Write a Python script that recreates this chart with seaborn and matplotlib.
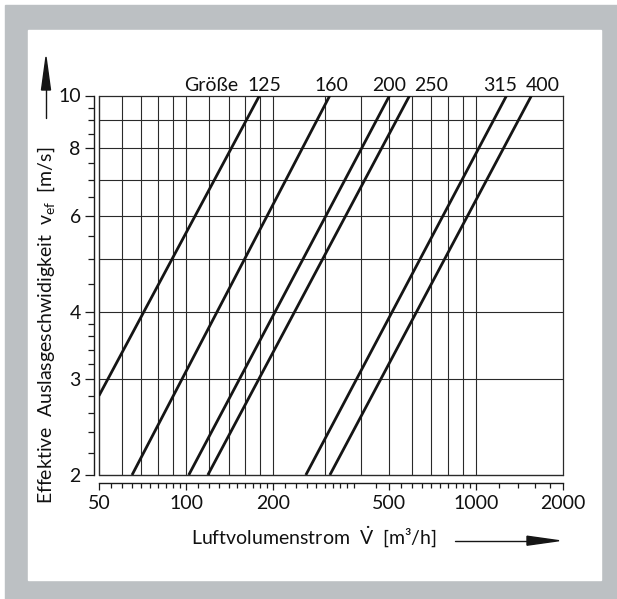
import matplotlib
matplotlib.use("Agg")
import matplotlib.pyplot as plt
import numpy as np
import pandas as pd
import seaborn as sns
from matplotlib.ticker import NullFormatter
from matplotlib.patches import Rectangle, Polygon
from matplotlib.lines import Line2D
from matplotlib.transforms import IdentityTransform

# ---------------- data ----------------
sizes = ["125", "160", "200", "250", "315", "400"]
flow_start = [50, 65, 102, 118.7, 258.6, 313]       # m3/h at lower end
speed_start = [2.8, 2, 2, 2, 2, 2]                   # m/s at lower end
flow_end = [179, 313, 503, 590, 1275, 1554]          # m3/h at upper end
speed_end = [10, 10, 10, 10, 10, 10]                 # m/s at upper end
label_x = [186, 318, 500, 702, 1213, 1705]           # size label positions (m3/h)
caption = "Größe"
caption_x = 122

x_major = [50, 100, 200, 500, 1000, 2000]
x_major_labels = ["50", "100", "200", "500", "1000", "2000"]
x_minor = [55, 60, 65, 70, 75, 80, 85, 90, 95,
           110, 120, 130, 140, 150, 160, 170, 180, 190,
           220, 240, 260, 280, 300, 320, 340, 360, 380,
           450, 550, 600, 650, 700, 750, 800, 850, 900, 950,
           1200, 1400, 1600, 1800]
x_grid = [60, 70, 80, 90, 100, 120, 140, 160, 180, 200,
          300, 400, 500, 600, 700, 800, 900, 1000]

y_major = [2, 3, 4, 6, 8, 10]
y_major_labels = ["2", "3", "4", "6", "8", "10"]
y_minor = [2.2, 2.4, 2.6, 2.8, 3.2, 3.4, 3.6, 3.8, 4.5, 5, 5.5,
           6.5, 7, 7.5, 8.5, 9, 9.5]
y_grid = [3, 4, 5, 6, 7, 8, 9]

x_label = r"Luftvolumenstrom  $\dot{\mathregular{V}}$  [m³/h]"
y_label = r"Effektive  Auslasgeschwidigkeit  v$_{\mathregular{ef}}$  [m/s]"

rows = []
for s, x0, y0, x1, y1 in zip(sizes, flow_start, speed_start, flow_end, speed_end):
    rows.append({"size": s, "V": x0, "v": y0})
    rows.append({"size": s, "V": x1, "v": y1})
df = pd.DataFrame(rows)

# ---------------- style ----------------
sns.set_style("white")
plt.rcParams["font.family"] = ["Lato", "DejaVu Sans"]
plt.rcParams["font.weight"] = "normal"
plt.rcParams["mathtext.fontset"] = "custom"
plt.rcParams["mathtext.rm"] = "Lato"
plt.rcParams["mathtext.it"] = "Lato"
plt.rcParams["text.color"] = "#111111"

FS = 14
W, H = 617, 599
fig = plt.figure(figsize=(W / 100, H / 100), dpi=100, facecolor="white")

# grey frame and white inner panel
gray = "#bcc0c3"
fig.patches.append(Rectangle((4.7 / W, 0), 1 - 4.7 / W, 1 - 5 / H,
                             transform=fig.transFigure, color=gray, zorder=-10))
fig.patches.append(Rectangle((28 / W, (H - 580) / H), (601 - 28) / W, (580 - 30) / H,
                             transform=fig.transFigure, color="white", zorder=-9))

left, right, top, bottom = 99, 563.3, 95.5, 475
ax = fig.add_axes([left / W, (H - bottom) / H, (right - left) / W, (bottom - top) / H])
ax.set_facecolor("none")
ax.set_xscale("log")
ax.set_yscale("log")

sns.lineplot(data=df, x="V", y="v", units="size", estimator=None, sort=False,
             color="#151515", lw=2.0, ax=ax, legend=False, zorder=5,
             solid_capstyle="butt")

ax.set_xlim(50, 2000)
ax.set_ylim(2, 10)

# grid
gc = "#2a2a2a"
for gx in x_grid:
    ax.axvline(gx, color=gc, lw=0.8, zorder=1)
for gy in y_grid:
    ax.axhline(gy, color=gc, lw=0.8, zorder=1)
# frame lines at left and bottom data edges
ax.axvline(50, color=gc, lw=1.0, zorder=2, clip_on=False)
ax.axhline(2, color=gc, lw=1.0, zorder=2, clip_on=False)
for side in ["top", "right"]:
    ax.spines[side].set_color(gc)
    ax.spines[side].set_linewidth(0.9)

# offset axes
ax.spines["left"].set_position(("outward", 3.6))
ax.spines["bottom"].set_position(("outward", 5.5))
for side in ["left", "bottom"]:
    ax.spines[side].set_color("#1a1a1a")
    ax.spines[side].set_linewidth(1.0)

ax.set_xticks(x_major, labels=x_major_labels)
ax.set_xticks(x_minor, minor=True)
ax.xaxis.set_minor_formatter(NullFormatter())
ax.set_yticks(y_major, labels=y_major_labels)
ax.set_yticks(y_minor, minor=True)
ax.yaxis.set_minor_formatter(NullFormatter())

ax.tick_params(axis="x", which="major", direction="out", length=5, width=0.9,
               color="#1a1a1a", pad=4, labelsize=FS, labelcolor="#111111", bottom=True)
ax.tick_params(axis="x", which="minor", direction="out", length=3.3, width=0.9,
               color="#1a1a1a", bottom=True)
ax.tick_params(axis="y", which="major", direction="out", length=6.5, width=0.9,
               color="#1a1a1a", pad=3, labelsize=FS, labelcolor="#111111", left=True)
ax.tick_params(axis="y", which="minor", direction="out", length=4, width=0.9,
               color="#1a1a1a", left=True)
ax.set_xlabel("")
ax.set_ylabel("")

# size labels on top
for s, lx in zip(sizes, label_x):
    ax.annotate(s, xy=(lx, 10), xytext=(0, 3), textcoords="offset points",
                ha="center", va="baseline", fontsize=FS, annotation_clip=False)
ax.annotate(caption, xy=(caption_x, 10), xytext=(0, 3), textcoords="offset points",
            ha="center", va="baseline", fontsize=FS, annotation_clip=False)

# axis titles
fig.text(314 / W, (H - 537) / H, x_label, ha="center", va="center", fontsize=FS)
fig.text(46 / W, (H - 325) / H, y_label, ha="center", va="center",
         rotation=90, fontsize=FS)

# arrows (pixel coordinates, origin bottom-left)
ident = IdentityTransform()
ac = "#151515"
# vertical arrow
fig.add_artist(Line2D([46, 46], [H - 118, H - 88], color=ac, lw=1.0, transform=ident))
fig.add_artist(Polygon([[41.5, H - 90], [50.5, H - 90], [46, H - 57]], closed=True,
                       color=ac, transform=ident))
# horizontal arrow
fig.add_artist(Line2D([455, 530], [H - 540.7, H - 540.7], color=ac, lw=1.0, transform=ident))
fig.add_artist(Polygon([[527, H - 536.2], [527, H - 545.2], [559, H - 540.7]], closed=True,
                       color=ac, transform=ident))

fig.savefig("out.png", dpi=100, facecolor="white")
